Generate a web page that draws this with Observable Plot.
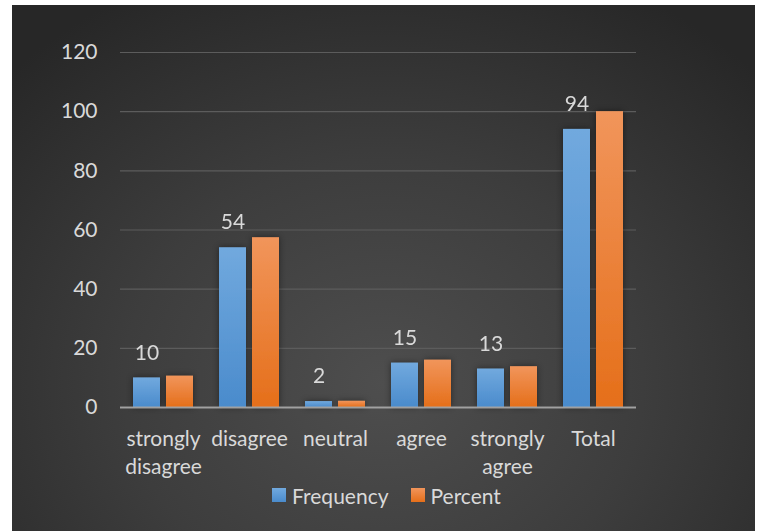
<!DOCTYPE html>
<html>
<head>
<meta charset="utf-8">
<script src="https://cdn.jsdelivr.net/npm/d3@7"></script>
<script src="https://cdn.jsdelivr.net/npm/@observablehq/plot@0.6"></script>
<style>
  html, body { margin: 0; padding: 0; background: #ffffff; }
  #panel {
    position: absolute; left: 12px; top: 5px; width: 743px; height: 526px;
    background: radial-gradient(ellipse 70% 85% at 50% 72%, #4e4e4e 0%, #3d3d3d 50%, #272727 100%);
    font-family: Lato, "Open Sans", sans-serif;
    color: #d9d9d9;
  }
  #legend {
    display: flex; justify-content: center; align-items: center; gap: 22px;
    font-size: 21px; height: 24px; margin-left: 6px;
  }
  #legend .item { display: flex; align-items: center; gap: 6px; }
  #legend .sw { width: 14px; height: 14px; display: inline-block; }
</style>
</head>
<body>
<div id="panel">
  <div id="chart"></div>
  <div id="legend"></div>
</div>
<script>
// Survey responses: counts and percentages per answer
const categories = ["strongly disagree", "disagree", "neutral", "agree", "strongly agree", "Total"];
const axisLabels = ["strongly\ndisagree", "disagree", "neutral", "agree", "strongly\nagree", "Total"];
const frequency = [10, 54, 2, 15, 13, 94];
const percent = [10.6, 57.4, 2.1, 16.0, 13.8, 100];
const seriesNames = ["Frequency", "Percent"];
const yTicks = [0, 20, 40, 60, 80, 100, 120];

// long-format rows for faceting
const rows = [];
categories.forEach((c, i) => {
  rows.push({category: c, series: "Frequency", value: frequency[i]});
  rows.push({category: c, series: "Percent", value: percent[i]});
});
const labelOf = new Map(categories.map((c, i) => [c, axisLabels[i]]));

const chart = Plot.plot({
  width: 743,
  height: 478,
  marginLeft: 108,
  marginRight: 119,
  marginTop: 47,
  marginBottom: 76,
  style: {fontFamily: "Lato, 'Open Sans', sans-serif", fontSize: "21px", color: "#d9d9d9", background: "transparent", overflow: "visible"},
  fx: {domain: categories, padding: 0, label: null},
  x: {domain: seriesNames, paddingInner: 0.18, paddingOuter: 0.39, axis: null},
  y: {domain: [0, 120], label: null},
  color: {domain: seriesNames, range: ["url(#gradFreq)", "url(#gradPct)"]},
  marks: [
    Plot.gridY(yTicks, {stroke: "#5c5c5c", strokeOpacity: 1, strokeWidth: 1.2}),
    Plot.axisY({ticks: yTicks, tickSize: 0, tickPadding: 23, fontSize: 21, label: null}),
    Plot.axisFx({anchor: "bottom", tickSize: 0, tickPadding: 19, fontSize: 21, lineHeight: 1.33,
                 tickFormat: d => labelOf.get(d), label: null}),
    Plot.barY(rows, {fx: "category", x: "series", y: "value", fill: "series"}),
    Plot.ruleY([0], {stroke: "#a8a8a8", strokeWidth: 2.2, strokeOpacity: 0.9}),
    Plot.text(rows.filter(d => d.series === "Frequency"),
      {fx: "category", x: "series", y: "value", text: d => String(d.value),
       dy: -25, fontSize: 21, fill: "#d9d9d9"})
  ]
});

// gradients and shadow used by the bars
const ns = "http://www.w3.org/2000/svg";
const defs = document.createElementNS(ns, "defs");
defs.innerHTML = `
  <linearGradient id="gradFreq" x1="0" y1="0" x2="0" y2="1">
    <stop offset="0" stop-color="#71a9de"/>
    <stop offset="1" stop-color="#4a8bcc"/>
  </linearGradient>
  <linearGradient id="gradPct" x1="0" y1="0" x2="0" y2="1">
    <stop offset="0" stop-color="#f1955b"/>
    <stop offset="1" stop-color="#e56f1a"/>
  </linearGradient>
  <filter id="barShadow" x="-40%" y="-10%" width="180%" height="120%">
    <feDropShadow dx="0" dy="0" stdDeviation="3" flood-color="#000" flood-opacity="0.45"/>
  </filter>`;
chart.insertBefore(defs, chart.firstChild);
chart.querySelectorAll('g[aria-label="bar"]').forEach(g => g.setAttribute("filter", "url(#barShadow)"));

document.getElementById("chart").appendChild(chart);

// legend below the chart
const legend = document.getElementById("legend");
const swatchFill = {Frequency: "linear-gradient(#71a9de, #4a8bcc)", Percent: "linear-gradient(#f1955b, #e56f1a)"};
seriesNames.forEach(s => {
  const item = document.createElement("div");
  item.className = "item";
  const sw = document.createElement("span");
  sw.className = "sw";
  sw.style.background = swatchFill[s];
  const t = document.createElement("span");
  t.textContent = s;
  item.appendChild(sw);
  item.appendChild(t);
  legend.appendChild(item);
});
</script>
</body>
</html>
